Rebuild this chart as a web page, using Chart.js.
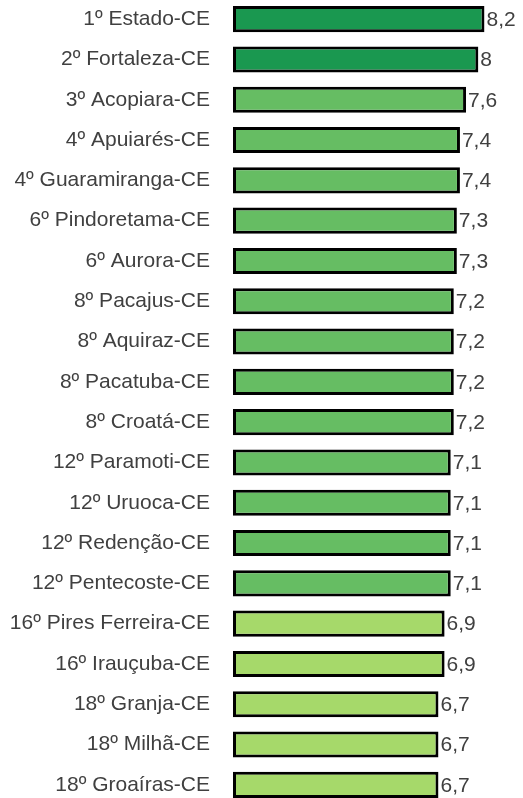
<!doctype html>
<html>
<head>
<meta charset="utf-8">
<title>Ranking CE</title>
<script src="https://cdn.jsdelivr.net/npm/chart.js@4/dist/chart.umd.min.js"></script>
<style>
  html, body { margin: 0; padding: 0; background: #fff; overflow: hidden; }
  #myChart { display: block; margin-top: -1px; }
</style>
</head>
<body>
<canvas id="myChart" width="523" height="806"></canvas>
<script>
  const categories = [
    "1º Estado-CE", "2º Fortaleza-CE", "3º Acopiara-CE", "4º Apuiarés-CE",
    "4º Guaramiranga-CE", "6º Pindoretama-CE", "6º Aurora-CE", "8º Pacajus-CE",
    "8º Aquiraz-CE", "8º Pacatuba-CE", "8º Croatá-CE", "12º Paramoti-CE",
    "12º Uruoca-CE", "12º Redenção-CE", "12º Pentecoste-CE", "16º Pires Ferreira-CE",
    "16º Irauçuba-CE", "18º Granja-CE", "18º Milhã-CE", "18º Groaíras-CE"
  ];
  const values = [8.2, 8, 7.6, 7.4, 7.4, 7.3, 7.3, 7.2, 7.2, 7.2, 7.2, 7.1, 7.1, 7.1, 7.1, 6.9, 6.9, 6.7, 6.7, 6.7];

  const fontFamily = '"Liberation Sans", Arial, sans-serif';
  const colorFor = (v) => v >= 8 ? '#1a9850' : (v >= 7 ? '#66bd63' : '#a6d96a');

  // draw the value to the right of each bar, with comma decimals
  const valueLabels = {
    id: 'valueLabels',
    afterDatasetsDraw(chart) {
      const ctx = chart.ctx;
      const meta = chart.getDatasetMeta(0);
      ctx.save();
      ctx.font = '21px ' + fontFamily;
      ctx.fillStyle = '#404040';
      ctx.textBaseline = 'middle';
      ctx.textAlign = 'left';
      meta.data.forEach((bar, i) => {
        ctx.fillText(String(values[i]).replace('.', ','), bar.x + 2, bar.y + 1);
      });
      ctx.restore();
    }
  };

  const ctx = document.getElementById('myChart').getContext('2d');
  const myChart = new Chart(ctx, {
    type: 'bar',
    data: {
      labels: categories,
      datasets: [{
        data: values,
        backgroundColor: values.map(colorFor),
        borderColor: '#000',
        borderWidth: 3,
        borderSkipped: false,
        barPercentage: 0.8,
        categoryPercentage: 0.81,
      }]
    },
    options: {
      indexAxis: 'y',
      responsive: false,
      animation: false,
      layout: { padding: { left: 0, right: 14, top: 0, bottom: 0 } },
      scales: {
        x: { display: false, min: 0, max: 9 },
        y: {
          grid: { display: false, drawTicks: false },
          border: { display: false },
          ticks: {
            color: '#404040',
            padding: 23,
            font: { family: fontFamily, size: 21 }
          },
          afterFit: (s) => {
            // fixed label column, no extra top/bottom padding from tick labels
            s.width = 233;
            s.paddingTop = 0;
            s.paddingBottom = 0;
          }
        }
      },
      plugins: {
        legend: { display: false },
        tooltip: { enabled: false }
      }
    },
    plugins: [valueLabels]
  });
</script>
</body>
</html>
